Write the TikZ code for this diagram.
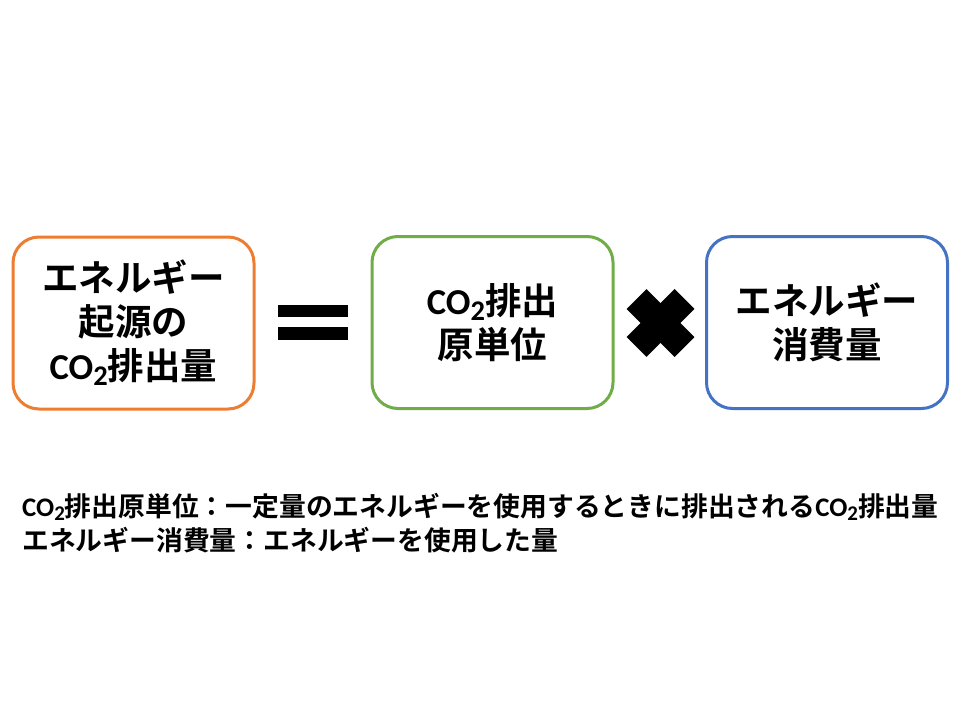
\documentclass[tikz,border=0pt]{standalone}
\usepackage{fontspec}
\setmainfont{Noto Sans CJK JP Bold}
\newfontfamily\latinf{Carlito}[BoldFont={* Bold}]
\newcommand{\cotwo}{{\latinf\bfseries CO\raisebox{-0.16em}{\scalebox{0.78}{2}}}}
\begin{document}
\begin{tikzpicture}[x=1pt,y=-1pt,
  boxst/.style={draw, line width=3pt, rounded corners=26pt, minimum width=241pt, minimum height=172pt, inner sep=0pt},
  boxtext/.style={align=center, font=\fontsize{36.5}{44}\selectfont},
  foot/.style={anchor=north west, align=left, inner sep=0pt, font=\fontsize{26.8}{34}\selectfont}]
\useasboundingbox (0,0) rectangle (960,720);
\fill[white] (0,0) rectangle (960,720);
\definecolor{orng}{HTML}{ED7D31}
\definecolor{grn}{HTML}{70AD47}
\definecolor{blu}{HTML}{4472C4}
\node[boxst, draw=orng] (a) at (133.5,323) {};
\node[boxst, draw=grn] (b) at (492.5,322.5) {};
\node[boxst, draw=blu] (c) at (827,322.5) {};
\node[boxtext] (at) at (a.center) {エネルギー\\起源の\\\cotwo 排出量};
\node[boxtext] (bt) at (b.center) {\cotwo 排出\\原単位};
\node[boxtext] (ct) at (c.center) {エネルギー\\消費量};
% equals sign
\fill[black] (278,305) rectangle (348,317);
\fill[black] (278,327) rectangle (348,340);
% times sign
\draw[line width=28pt, line cap=butt] (636.5,299) -- (684.5,347);
\draw[line width=28pt, line cap=butt] (636.5,347) -- (684.5,299);
\node[foot] (f) at (22,493) {\cotwo 排出原単位：一定量のエネルギーを使用するときに排出される\cotwo 排出量\\エネルギー消費量：エネルギーを使用した量};
\end{tikzpicture}
\end{document}
